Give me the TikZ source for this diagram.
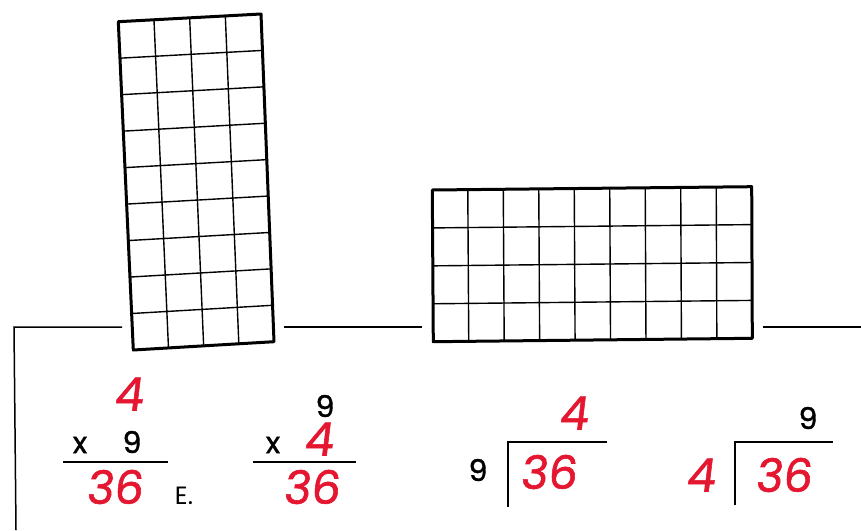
\documentclass[tikz,border=0pt]{standalone}
\usepackage{fontspec}
\setmainfont{Poppins}
\newfontfamily\penfont{Poppins}[FakeBold=1.2]
\usetikzlibrary{calc}
\definecolor{pen}{RGB}{228,22,48}
\tikzset{
  frame/.style={line width=3pt, line join=round},
  cell/.style={line width=1.4pt},
  rule/.style={line width=1.5pt},
  rednum/.style={text=pen, inner sep=0pt, font=\penfont\fontsize{46}{50}\selectfont, xslant=0.12},
  blknum/.style={text=black, inner sep=0pt, font=\penfont\fontsize{30}{34}\selectfont},
  times/.style={text=black, inner sep=0pt, font=\penfont\fontsize{30}{34}\selectfont},
  note/.style={text=black, inner sep=0pt, font=\fontsize{25}{28}\selectfont},
}
\begin{document}
\begin{tikzpicture}[x=1pt,y=-1pt]
\useasboundingbox (0,0) rectangle (861,530);
% tall grid
\coordinate (aTL) at (118.3,21.7);
\coordinate (aTR) at (261,14);
\coordinate (aBR) at (274,341.7);
\coordinate (aBL) at (133.3,350);
\foreach \i in {1,...,3}
  \draw[cell] ($(aTL)!\i/4!(aTR)$) -- ($(aBL)!\i/4!(aBR)$);
\foreach \j in {1,...,8}
  \draw[cell] ($(aTL)!\j/9!(aBL)$) -- ($(aTR)!\j/9!(aBR)$);
\draw[frame] (aTL) -- (aTR) -- (aBR) -- (aBL) -- cycle;
% wide grid
\coordinate (bTL) at (432.3,190);
\coordinate (bTR) at (751.7,186.7);
\coordinate (bBR) at (752.3,338.3);
\coordinate (bBL) at (433.3,341.7);
\foreach \i in {1,...,8}
  \draw[cell] ($(bTL)!\i/9!(bTR)$) -- ($(bBL)!\i/9!(bBR)$);
\foreach \j in {1,...,3}
  \draw[cell] ($(bTL)!\j/4!(bBL)$) -- ($(bTR)!\j/4!(bBR)$);
\draw[frame] (bTL) -- (bTR) -- (bBR) -- (bBL) -- cycle;
% base line
\coordinate (h0) at (14,327);
\coordinate (h1) at (122,327);
\coordinate (h2) at (284,327);
\coordinate (h3) at (422,327);
\coordinate (h4) at (763,327);
\coordinate (h5) at (861,327);
\coordinate (v1) at (16,530);
\draw[rule] (h1) -- (h0) -- (v1);
\draw[rule] (h2) -- (h3);
\draw[rule] (h4) -- (h5);
% problem 1
\node[rednum] (p1a) at (130,394) {4};
\node[times] (p1x) at (80,445) {x};
\node[blknum] (p1b) at (132,442) {9};
\coordinate (p1l) at (63,462);
\coordinate (p1r) at (168,462);
\draw[rule] (p1l) -- (p1r);
\node[rednum] (p1c) at (116,487) {36};
\node[note] (p1e) at (184,496) {E.};
% problem 2
\node[blknum] (p2a) at (325,406) {9};
\node[times] (p2x) at (273,445) {x};
\node[rednum] (p2b) at (320,439) {4};
\coordinate (p2l) at (253,462);
\coordinate (p2r) at (356,462);
\draw[rule] (p2l) -- (p2r);
\node[rednum] (p2c) at (313,487) {36};
% problem 3
\node[rednum] (p3q) at (575,413) {4};
\coordinate (p3c) at (508,442);
\coordinate (p3r) at (607,442);
\coordinate (p3b) at (508,507);
\draw[rule] (p3b) -- (p3c) -- (p3r);
\node[blknum] (p3d) at (478,470) {9};
\node[rednum] (p3n) at (550,472) {36};
% problem 4
\node[blknum] (p4q) at (808,418) {9};
\coordinate (p4c) at (735,442);
\coordinate (p4r) at (833,442);
\coordinate (p4b) at (735,505);
\draw[rule] (p4b) -- (p4c) -- (p4r);
\node[rednum] (p4d) at (702,475) {4};
\node[rednum] (p4n) at (785,475) {36};
\end{tikzpicture}
\end{document}
